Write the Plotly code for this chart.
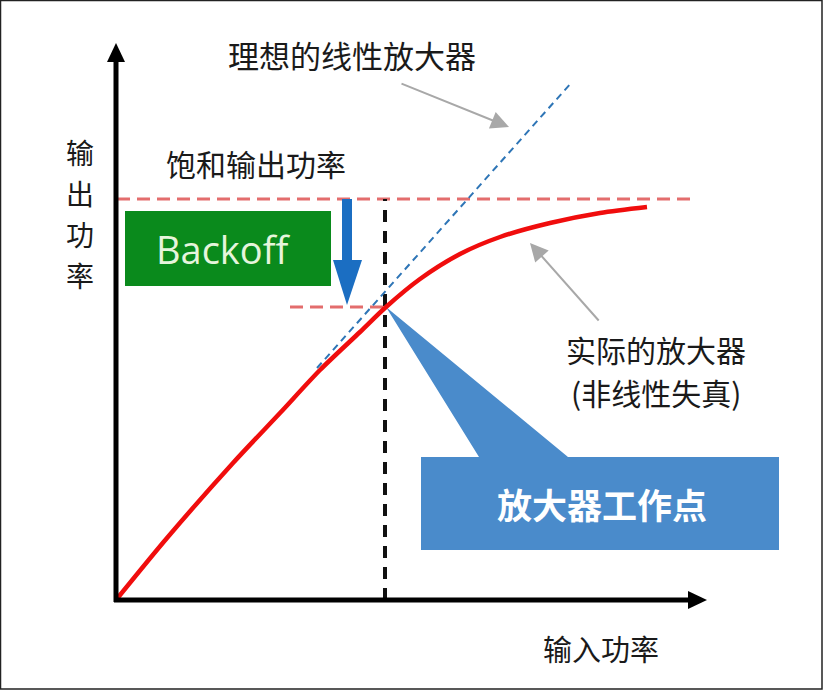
import plotly.graph_objects as go

# ---------------- data (arbitrary power units) ----------------
input_power = [0, 51, 117, 164, 204, 244, 270, 304, 344, 384, 434, 484, 531]
output_power = [0, 62, 137, 187, 230, 268, 293, 321, 346, 363, 377, 387, 393]

ideal_input = [201, 456]
ideal_output = [232, 518]

saturation_power = 401
operating_point = (270, 293)

y_title_chars = ["输", "出", "功", "率"]
x_title = "输入功率"
label_ideal = "理想的线性放大器"
label_sat = "饱和输出功率"
label_real = ["实际的放大器", "(非线性失真)"]
label_backoff = "Backoff"
label_op = "放大器工作点"

# ---------------- figure ----------------
CJK = "Noto Sans CJK SC"
TXT = "#1a1a1a"
opx, opy = operating_point

fig = go.Figure()

# ideal linear amplifier
fig.add_trace(go.Scatter(x=ideal_input, y=ideal_output, mode="lines",
                         line=dict(color="#2e75b6", width=2, dash="7px,5px"),
                         hoverinfo="skip"))
# real amplifier
fig.add_trace(go.Scatter(x=input_power, y=output_power, mode="lines",
                         line=dict(color="#f00d0d", width=4.5, shape="spline", smoothing=0.8),
                         hoverinfo="skip"))

shapes = []
# border
shapes.append(dict(type="rect", xref="x", yref="y", x0=-115.5, x1=706, y0=599.5, y1=-89,
                   line=dict(color="#222", width=1.5), layer="below"))
# callout
shapes.append(dict(type="path", xref="x", yref="y",
                   path=f"M {opx},{opy} L 363,143 L 305,143 L 305,50 L 663,50 L 663,143 L 452,143 Z",
                   fillcolor="#4a8bcb", line=dict(width=0), layer="below"))
# green box
shapes.append(dict(type="rect", xref="x", yref="y", x0=9, x1=215, y0=389, y1=314,
                   fillcolor="#0a8a1c", line=dict(width=0), layer="below"))
# saturation dashed line
shapes.append(dict(type="line", xref="x", yref="y", x0=1, x1=574, y0=saturation_power, y1=saturation_power,
                   line=dict(color="#e36d6d", width=3, dash="13px,7px"), layer="below"))
# operating point dashed line
shapes.append(dict(type="line", xref="x", yref="y", x0=174, x1=opx, y0=opy, y1=opy,
                   line=dict(color="#e36d6d", width=3, dash="13px,7px"), layer="below"))
# vertical black dashed
shapes.append(dict(type="line", xref="x", yref="y", x0=opx - 1, x1=opx - 1, y0=0, y1=saturation_power,
                   line=dict(color="#111", width=4, dash="12px,9px"), layer="below"))
# backoff arrow
shapes.append(dict(type="line", xref="x", yref="y", x0=231, x1=231, y0=saturation_power, y1=338,
                   line=dict(color="#1b6ec2", width=10), layer="below"))
shapes.append(dict(type="path", xref="x", yref="y",
                   path=f"M 217,340 L 246,340 L 231,{opy + 2} Z",
                   fillcolor="#1b6ec2", line=dict(width=0), layer="below"))
# axes
shapes.append(dict(type="line", xref="x", yref="y", x0=0, x1=0, y0=-2, y1=540,
                   line=dict(color="black", width=5)))
shapes.append(dict(type="path", xref="x", yref="y", path="M -9,538 L 9,538 L 0,557 Z",
                   fillcolor="black", line=dict(width=0)))
shapes.append(dict(type="line", xref="x", yref="y", x0=-2, x1=574, y0=0, y1=0,
                   line=dict(color="black", width=5)))
shapes.append(dict(type="path", xref="x", yref="y", path="M 572,-9 L 572,9 L 591,0 Z",
                   fillcolor="black", line=dict(width=0)))

ann = []
# gray pointer arrows
ann.append(dict(x=393, y=473, ax=284, ay=517, xref="x", yref="y", axref="x", ayref="y",
                text="", showarrow=True, arrowhead=2, arrowsize=1.8, arrowwidth=2,
                arrowcolor="#a8a8a8"))
ann.append(dict(x=414, y=357, ax=484, ay=278, xref="x", yref="y", axref="x", ayref="y",
                text="", showarrow=True, arrowhead=2, arrowsize=1.8, arrowwidth=2,
                arrowcolor="#a8a8a8"))
# texts
ann.append(dict(x=236, y=546, text=label_ideal, showarrow=False,
                font=dict(family=CJK, size=31, color=TXT)))
ann.append(dict(x=140, y=437, text=label_sat, showarrow=False,
                font=dict(family=CJK, size=30, color=TXT)))
ann.append(dict(x=540, y=251, text=label_real[0], showarrow=False,
                font=dict(family=CJK, size=30, color=TXT)))
ann.append(dict(x=540, y=208, text=label_real[1], showarrow=False,
                font=dict(family=CJK, size=30, color=TXT)))
ann.append(dict(x=485, y=-48, text=x_title, showarrow=False,
                font=dict(family=CJK, size=29, color=TXT)))
for i, ch in enumerate(y_title_chars):
    ann.append(dict(x=-36, y=448 - i * 41, text=ch, showarrow=False,
                    font=dict(family=CJK, size=28, color=TXT)))
ann.append(dict(x=107, y=351, text=label_backoff, showarrow=False,
                font=dict(family="Open Sans", size=38, color="#e6f5dc")))
ann.append(dict(x=486, y=97, text=f"<b>{label_op}</b>", showarrow=False,
                font=dict(family=CJK, size=35, color="white")))

fig.update_layout(
    width=825, height=692,
    margin=dict(l=0, r=0, t=0, b=0),
    paper_bgcolor="white", plot_bgcolor="white",
    showlegend=False,
    xaxis=dict(range=[-116, 709], visible=False, fixedrange=True),
    yaxis=dict(range=[-92, 600], visible=False, fixedrange=True),
    shapes=shapes, annotations=ann,
)

fig.write_html("out.html", config={"displayModeBar": False},
               post_script="document.body.style.margin='0';document.body.style.overflow='hidden';")
